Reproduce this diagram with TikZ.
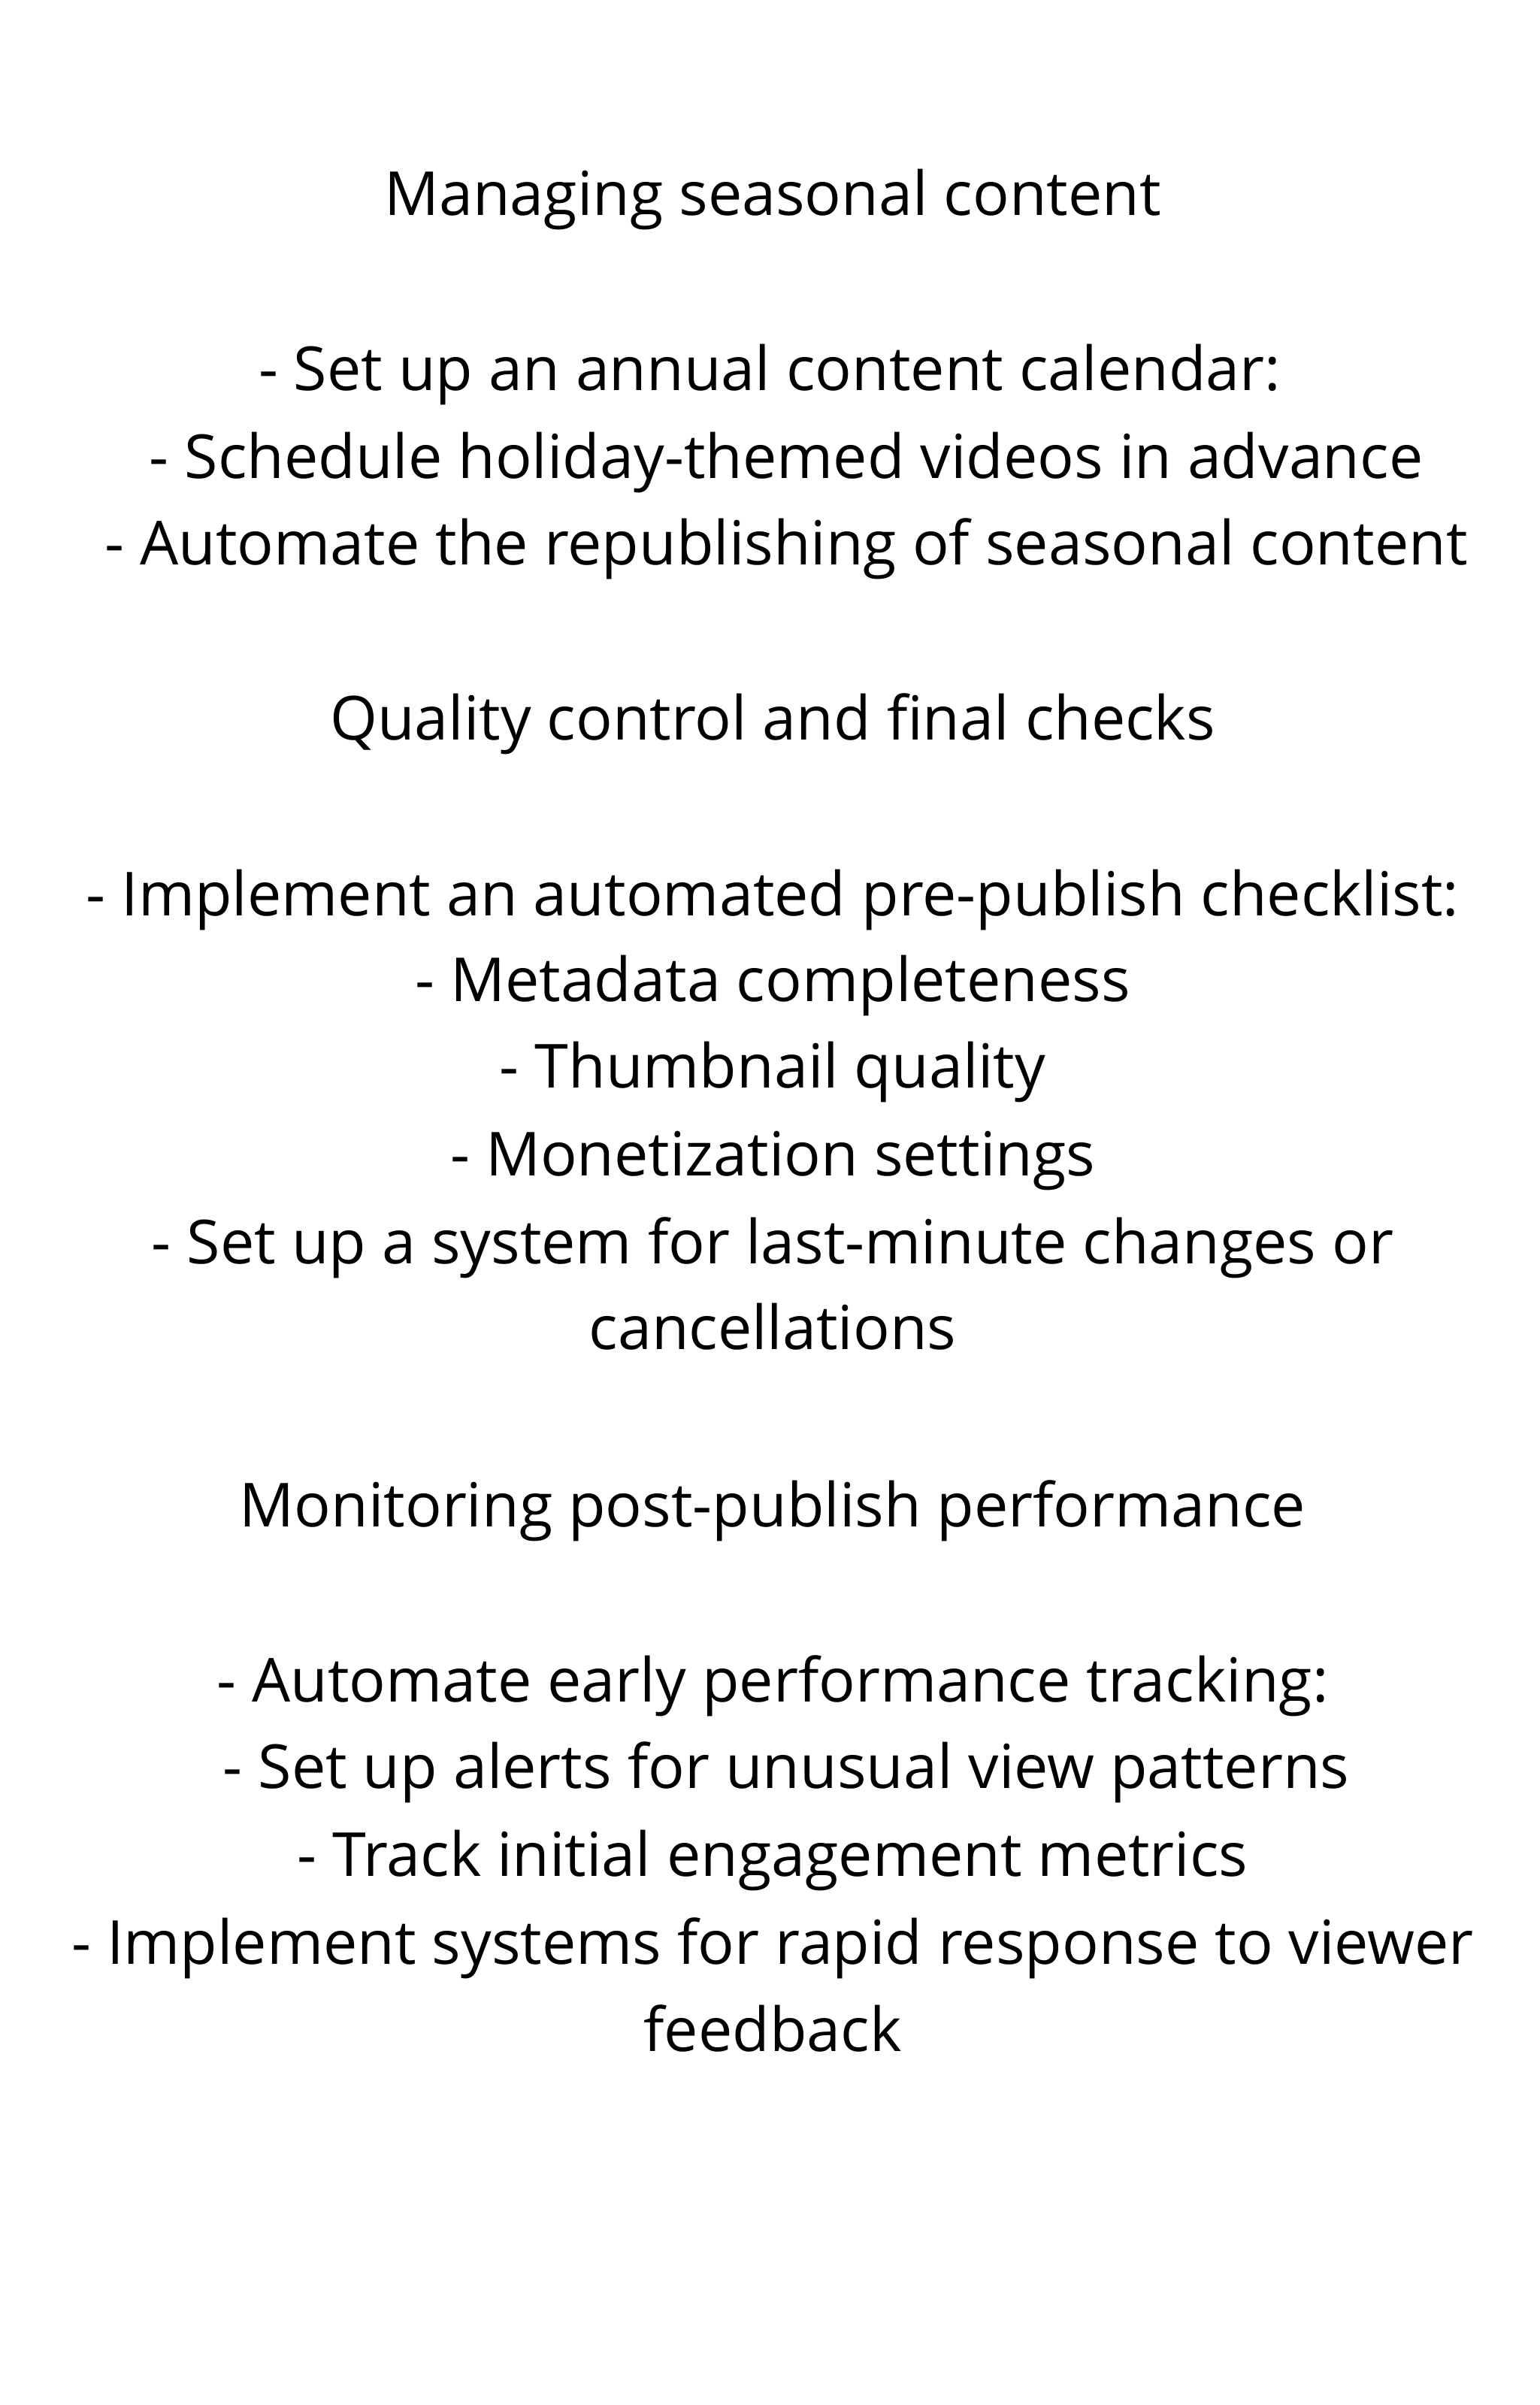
\documentclass[tikz,border=0pt]{standalone}
\usepackage{fontspec}
\setmainfont{Open Sans}
\begin{document}
\begin{tikzpicture}[x=1cm,y=-1cm,t/.style={anchor=base,inner sep=0pt,font=\fontsize{23}{28}\selectfont}]
\useasboundingbox[fill=white] (0,0) rectangle (20.48,32);
\def\cx{10.28}
\node[t] (l1) at (\cx,2.86) {Managing seasonal content};
\node[t] (l2) at (10.24,5.195) {- Set up an annual content calendar:};
\node[t] (l3) at (10.46,6.36) {- Schedule holiday-themed videos in advance};
\node[t] (l4) at (10.46,7.51) {- Automate the republishing of seasonal content};
\node[t] (l5) at (\cx,9.84) {Quality control and final checks};
\node[t] (l6) at (\cx,12.18) {- Implement an automated pre-publish checklist:};
\node[t] (l7) at (\cx,13.32) {- Metadata completeness};
\node[t] (l8) at (\cx,14.47) {- Thumbnail quality};
\node[t] (l9) at (\cx,15.64) {- Monetization settings};
\node[t] (l10) at (\cx,16.81) {- Set up a system for last-minute changes or};
\node[t] (l11) at (\cx,17.95) {cancellations};
\node[t] (l12) at (\cx,20.31) {Monitoring post-publish performance};
\node[t] (l13) at (\cx,22.64) {- Automate early performance tracking:};
\node[t] (l14) at (10.46,23.79) {- Set up alerts for unusual view patterns};
\node[t] (l15) at (\cx,24.96) {- Track initial engagement metrics};
\node[t] (l16) at (\cx,26.13) {- Implement systems for rapid response to viewer};
\node[t] (l17) at (\cx,27.29) {feedback};
\end{tikzpicture}
\end{document}
